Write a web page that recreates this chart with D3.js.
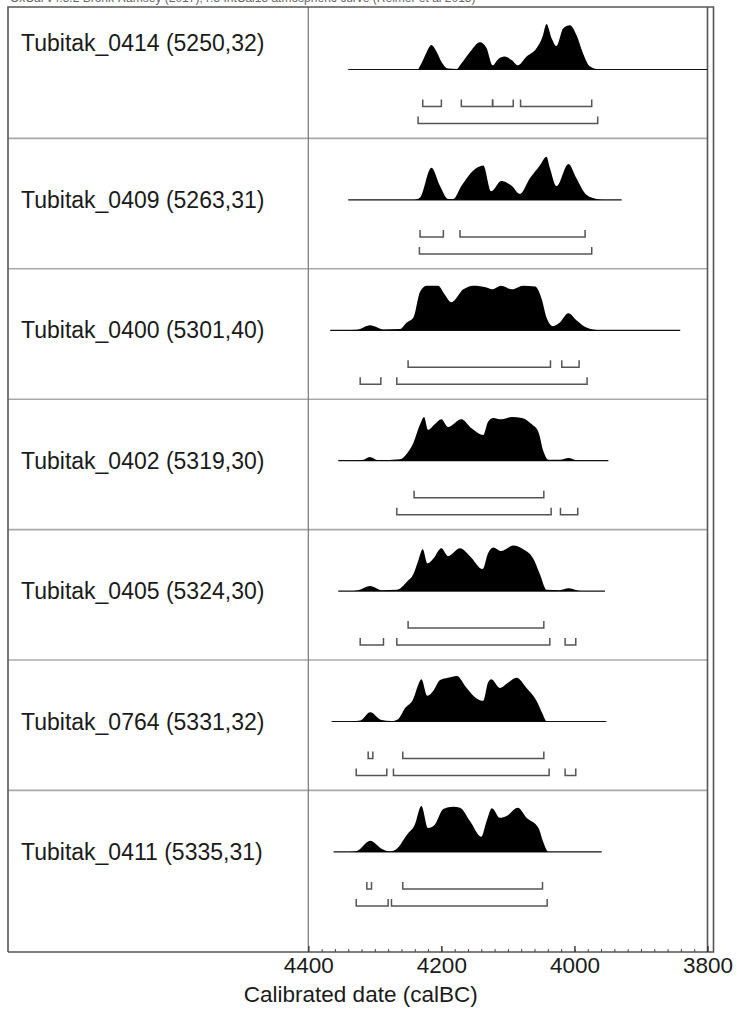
<!DOCTYPE html>
<html>
<head>
<meta charset="utf-8">
<script src="https://cdn.jsdelivr.net/npm/d3@7"></script>
<style>
	body { margin: 0; background: #fff; }
	svg text { font-family: "Liberation Sans", Arial, sans-serif; fill: #1a1a1a; }
</style>
</head>
<body>
<div id="chart"></div>
<script>
// Variables
var width = 745,
	height = 1015,
	frameLeft = 8,
	frameTop = 7,
	frameRight = 713.5,
	axisY = 952,
	rowHeight = 130.4,
	baseOffset = 61.5,
	maxHeight = 46;

var header = "OxCal v4.3.2 Bronk Ramsey (2017); r:5 IntCal13 atmospheric curve (Reimer et al 2013)";
var axisTitle = "Calibrated date (calBC)";
var tickValues = [4400, 4200, 4000, 3800];

// sample labels, top to bottom
var names = [
	"Tubitak_0414 (5250,32)",
	"Tubitak_0409 (5263,31)",
	"Tubitak_0400 (5301,40)",
	"Tubitak_0402 (5319,30)",
	"Tubitak_0405 (5324,30)",
	"Tubitak_0764 (5331,32)",
	"Tubitak_0411 (5335,31)"
];

// baseline of each distribution (calBC)
var lineStart = [4340, 4340, 4367, 4355, 4355, 4365, 4362];
var lineEnd = [3800, 3929, 3841, 3949, 3954, 3952, 3959];

// probability (relative to peak): [calBC, value]
var dist0414 = [[4235,0],[4230,0.13],[4222,0.38],[4215,0.53],[4207,0.38],[4200,0.17],[4190,0.02],[4177,0.01],
	[4170,0.13],[4157,0.38],[4142,0.59],[4132,0.46],[4123,0.09],[4115,0.22],[4105,0.28],[4094,0.2],[4085,0.09],
	[4072,0.28],[4057,0.46],[4048,0.71],[4042,0.99],[4034,0.67],[4027,0.51],[4017,0.89],[4007,0.96],[3997,0.75],
	[3987,0.35],[3977,0.07],[3964,0]];
var dist0409 = [[4240,0],[4232,0.05],[4215,0.7],[4202,0.3],[4190,0.02],[4182,0.02],[4170,0.3],[4152,0.64],
	[4137,0.75],[4125,0.19],[4110,0.41],[4094,0.3],[4082,0.13],[4067,0.47],[4052,0.75],[4042,0.94],[4037,0.7],
	[4027,0.3],[4009,0.78],[3997,0.47],[3982,0.11],[3967,0.02],[3955,0]];
var dist0400 = [[4345,0],[4327,0.01],[4307,0.11],[4287,0.02],[4262,0.03],[4252,0.17],[4242,0.28],[4232,0.84],
	[4222,0.97],[4205,0.97],[4195,0.78],[4185,0.61],[4167,0.89],[4152,0.97],[4132,0.93],[4124,0.89],[4110,0.97],
	[4094,0.89],[4077,0.97],[4059,0.95],[4049,0.67],[4042,0.28],[4032,0.09],[4022,0.17],[4009,0.37],[3997,0.22],
	[3982,0.06],[3962,0]];
var dist0402 = [[4335,0],[4317,0.02],[4308,0.08],[4295,0.01],[4262,0.03],[4252,0.15],[4242,0.39],[4232,0.79],
	[4226,0.95],[4220,0.67],[4210,0.79],[4200,0.9],[4190,0.73],[4170,0.9],[4155,0.71],[4137,0.56],[4130,0.84],
	[4122,0.93],[4110,0.9],[4094,0.95],[4079,0.93],[4064,0.79],[4054,0.62],[4047,0.22],[4039,0.02],[4022,0.02],
	[4009,0.06],[3997,0.01],[3985,0]];
var dist0405 = [[4340,0],[4325,0.02],[4307,0.11],[4290,0.02],[4267,0.03],[4252,0.2],[4242,0.37],[4235,0.65],
	[4228,0.91],[4221,0.6],[4212,0.71],[4200,0.93],[4190,0.76],[4172,0.93],[4157,0.76],[4138,0.48],[4130,0.82],
	[4122,0.95],[4110,0.87],[4092,0.99],[4077,0.91],[4062,0.71],[4052,0.37],[4042,0.03],[4022,0.02],[4009,0.06],
	[3994,0.01],[3985,0]];
var dist0764 = [[4340,0],[4322,0.02],[4307,0.2],[4290,0.03],[4275,0.01],[4265,0.05],[4255,0.28],[4242,0.5],
	[4235,0.79],[4230,0.92],[4221,0.56],[4212,0.67],[4202,0.9],[4190,0.95],[4177,0.99],[4162,0.73],[4147,0.5],
	[4137,0.45],[4130,0.84],[4125,0.92],[4112,0.73],[4100,0.84],[4087,0.95],[4072,0.73],[4057,0.45],[4048,0.17],
	[4042,0.01],[4035,0]];
var dist0411 = [[4340,0],[4327,0.02],[4307,0.24],[4290,0.07],[4277,0.01],[4267,0.07],[4252,0.37],[4240,0.59],
	[4230,1.0],[4220,0.52],[4210,0.59],[4197,0.93],[4182,0.98],[4172,0.96],[4157,0.67],[4140,0.33],[4132,0.67],
	[4124,0.95],[4112,0.74],[4102,0.78],[4085,0.96],[4072,0.74],[4054,0.52],[4047,0.22],[4039,0],[4032,0]];
var dists = [dist0414, dist0409, dist0400, dist0402, dist0405, dist0764, dist0411];

// 68.2% and 95.4% ranges, [from, to] calBC
var range68 = [
	[[4228,4200],[4170,4123],[4123,4092],[4081,3974]],
	[[4232,4197],[4172,3984]],
	[[4250,4036],[4019,3993]],
	[[4241,4046]],
	[[4250,4046]],
	[[4310,4303],[4258,4046]],
	[[4312,4305],[4258,4048]]
];
var range95 = [
	[[4235,3965]],
	[[4233,3974]],
	[[4322,4291],[4267,3981]],
	[[4267,4035],[4021,3995]],
	[[4322,4287],[4267,4037],[4014,3998]],
	[[4328,4282],[4272,4038],[4014,3998]],
	[[4328,4280],[4275,4041]]
];

var x = d3.scaleLinear()
	.domain([4400, 3800])
	.range([308.3, 707.5]);

var y = d3.scaleLinear()
	.domain([0, 1])
	.range([0, -maxHeight]);

var svg = d3.select("#chart").append("svg")
	.attr("width", width)
	.attr("height", height);

function rowTop(i) { return frameTop + 1 + i * rowHeight; }
function baseY(i) { return rowTop(i) + baseOffset; }

// header, mostly cut off at the top as in the source figure
svg.append("text")
	.attr("x", 10)
	.attr("y", 2)
	.style("font-size", "12px")
	.style("fill", "#666")
	.text(header);

// row separators
svg.append("g")
	.selectAll("line")
	.data(d3.range(1, names.length))
	.enter().append("line")
	.attr("x1", frameLeft).attr("x2", x(3800))
	.attr("y1", function(i) { return rowTop(i); })
	.attr("y2", function(i) { return rowTop(i); })
	.attr("stroke", "#a8a8a8")
	.attr("stroke-width", 1.6);

// vertical line at the left end of the axis
svg.append("line")
	.attr("x1", x(4400)).attr("x2", x(4400))
	.attr("y1", frameTop).attr("y2", axisY)
	.attr("stroke", "#777")
	.attr("stroke-width", 1.2);

// frame
var frame = svg.append("g")
	.attr("stroke", "#555")
	.attr("stroke-width", 1.6)
	.attr("fill", "none");
frame.append("path")
	.attr("d", "M" + frameLeft + "," + axisY + "V" + frameTop + "H" + frameRight + "V" + axisY + "H" + frameLeft);
frame.append("line")
	.attr("x1", x(3800)).attr("x2", x(3800))
	.attr("y1", frameTop).attr("y2", axisY);

var area = d3.area()
	.x(function(d) { return x(d[0]); })
	.y0(0)
	.y1(function(d) { return y(d[1]); })
	.curve(d3.curveMonotoneX);

function bracket(r, yy) {
	return "M" + x(r[0]) + "," + (yy - 7) + "V" + yy + "H" + x(r[1]) + "V" + (yy - 7);
}

var rows = svg.append("g")
	.selectAll("g")
	.data(names)
	.enter().append("g")
	.attr("transform", function(d, i) { return "translate(0," + baseY(i) + ")"; });

rows.append("text")
	.attr("x", 21)
	.attr("y", function(d, i) { return i == 0 ? 51 - baseY(0) : 8; })
	.style("font-size", "23px")
	.text(function(d) { return d; });

rows.append("line")
	.attr("x1", function(d, i) { return x(lineStart[i]); })
	.attr("x2", function(d, i) { return x(lineEnd[i]); })
	.attr("stroke", "#111")
	.attr("stroke-width", 1.2);

rows.append("path")
	.attr("d", function(d, i) { return area(dists[i]); })
	.attr("fill", "#000");

rows.each(function(d, i) {
	var g = d3.select(this);
	g.selectAll("path.r68")
		.data(range68[i])
		.enter().append("path")
		.attr("class", "r68")
		.attr("d", function(r) { return bracket(r, 37); })
		.attr("fill", "none")
		.attr("stroke", "#555")
		.attr("stroke-width", 1.5);
	g.selectAll("path.r95")
		.data(range95[i])
		.enter().append("path")
		.attr("class", "r95")
		.attr("d", function(r) { return bracket(r, 54); })
		.attr("fill", "none")
		.attr("stroke", "#555")
		.attr("stroke-width", 1.5);
});

// axis: major ticks with labels, minor ticks every 20 years
var axis = svg.append("g")
	.attr("transform", "translate(0," + axisY + ")")
	.call(d3.axisBottom(x).tickValues(tickValues).tickSizeInner(-6).tickSizeOuter(0).tickPadding(5).tickFormat(d3.format("d")));
axis.select(".domain").remove();
axis.selectAll(".tick line").attr("stroke", "#333").attr("stroke-width", 1.4);
axis.selectAll(".tick text")
	.style("font-size", "22.5px")
	.style("font-family", "\"Liberation Sans\", Arial, sans-serif")
	.attr("fill", "#1a1a1a");

var minor = svg.append("g")
	.attr("transform", "translate(0," + axisY + ")")
	.call(d3.axisBottom(x).tickValues(d3.range(3820, 4400, 20)).tickSizeInner(-3).tickSizeOuter(0).tickFormat(""));
minor.select(".domain").remove();
minor.selectAll(".tick line").attr("stroke", "#444");

svg.append("text")
	.attr("x", (frameLeft + frameRight) / 2)
	.attr("y", 1002)
	.attr("text-anchor", "middle")
	.style("font-size", "22.5px")
	.text(axisTitle);
</script>
</body>
</html>
